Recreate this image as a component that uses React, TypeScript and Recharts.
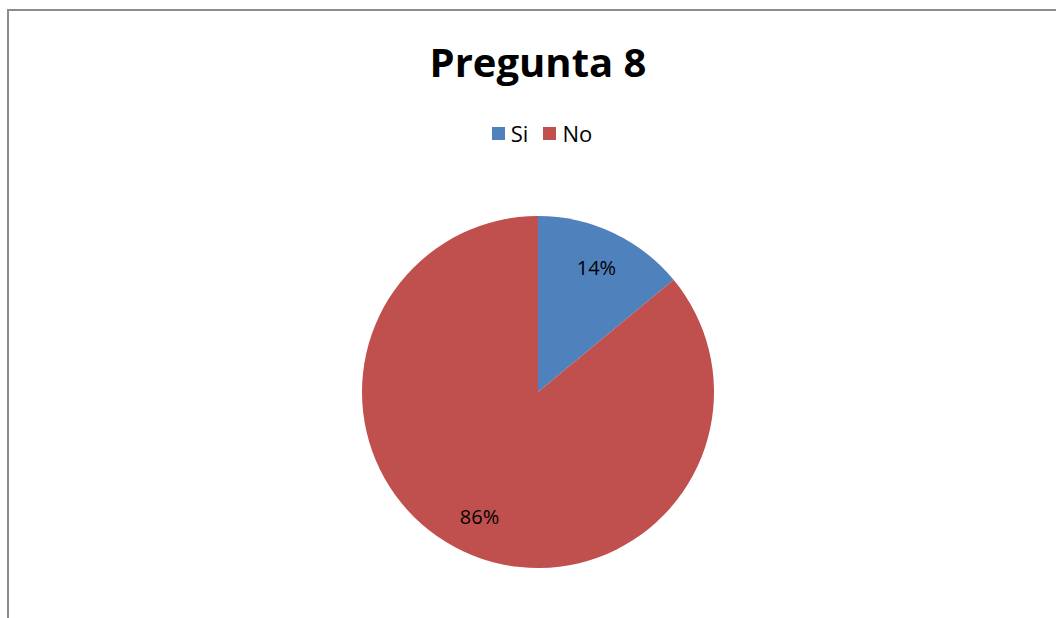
import React from "react";
import { Cell, Pie, PieChart } from "recharts";

const categories = ["Si", "No"];
const values = [14, 86];
const colors = ["#4F81BD", "#C0504D"];

const data = categories.map((name, i) => ({ name, value: values[i] }));
const total = values.reduce((a, b) => a + b, 0);

const RAD = Math.PI / 180;
const FONT = "'Open Sans', 'Noto Sans', sans-serif";

function renderLabel(props: any) {
  const { cx, cy, midAngle, outerRadius, value } = props;
  const r = outerRadius * 0.78;
  const x = cx + r * Math.cos(-midAngle * RAD);
  const y = cy + r * Math.sin(-midAngle * RAD);
  return (
    <text
      x={x}
      y={y}
      textAnchor="middle"
      dominantBaseline="central"
      fill="#000"
      fontSize={20}
      fontFamily={FONT}
    >
      {`${Math.round((value / total) * 100)}%`}
    </text>
  );
}

export default function App() {
  return (
    <div
      style={{
        position: "fixed",
        left: 0,
        top: 0,
        width: 1056,
        height: 618,
        background: "#fff",
        overflow: "hidden",
      }}
    >
      <div
        style={{
          position: "absolute",
          left: 7,
          top: 9,
          width: 1100,
          height: 700,
          borderTop: "2px solid #8c8c8c",
          borderLeft: "2px solid #8c8c8c",
        }}
      />
      <div
        style={{
          position: "absolute",
          left: 0,
          width: 1076,
          top: 37,
          textAlign: "center",
          fontFamily: FONT,
          fontWeight: 700,
          fontSize: 40,
          color: "#000",
          lineHeight: "50px",
        }}
      >
        Pregunta 8
      </div>
      <div
        style={{
          position: "absolute",
          left: 0,
          width: 1084,
          top: 117,
          height: 32,
          display: "flex",
          justifyContent: "center",
          alignItems: "center",
          gap: 15,
          fontFamily: FONT,
          fontSize: 22,
          color: "#000",
        }}
      >
        {categories.map((c, i) => (
          <span key={c} style={{ display: "flex", alignItems: "center" }}>
            <span
              style={{
                display: "inline-block",
                width: 13,
                height: 13,
                background: colors[i],
                marginRight: 6,
              }}
            />
            {c}
          </span>
        ))}
      </div>
      <div style={{ position: "absolute", left: 0, top: 0 }}>
        <PieChart
          width={1056}
          height={618}
          margin={{ top: 0, right: 0, bottom: 0, left: 0 }}
        >
          <Pie
            data={data}
            dataKey="value"
            nameKey="name"
            cx={538}
            cy={392}
            outerRadius={176}
            startAngle={90}
            endAngle={-270}
            label={renderLabel}
            labelLine={false}
            stroke="none"
            isAnimationActive={false}
          >
            {data.map((d, i) => (
              <Cell key={d.name} fill={colors[i]} />
            ))}
          </Pie>
        </PieChart>
      </div>
    </div>
  );
}
